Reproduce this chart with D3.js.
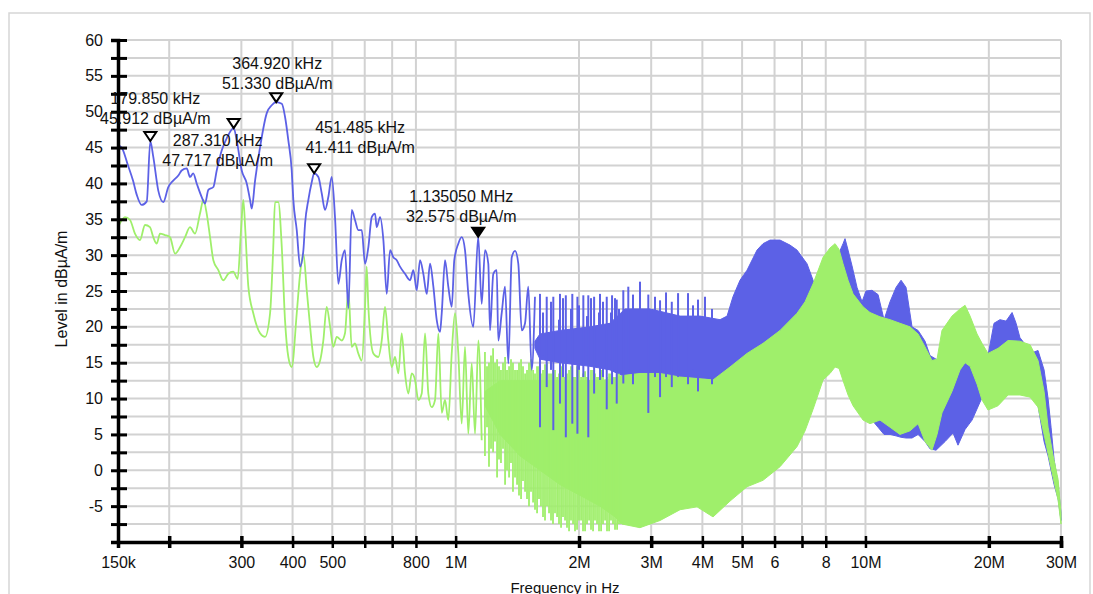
<!DOCTYPE html>
<html><head><meta charset="utf-8">
<script src="https://cdn.jsdelivr.net/npm/d3@7"></script>
<style>
body{margin:0;background:#fff}
svg text{font-family:"Liberation Sans",Arial,Helvetica,sans-serif;fill:#111}
</style>
</head><body>
<svg id="c" width="1093" height="594"></svg>
<script>
// ---------------- DATA (frequencies in kHz, levels in dBµA/m) ----------------
const freqTicks = [150,200,300,400,500,600,700,800,1000,2000,3000,4000,5000,6000,7000,8000,10000,20000,30000];
const freqTickLabels = ["150k","","300","400","500","","","800","1M","2M","3M","4M","5M","6","","8","10M","20M","30M"];
const majorFreqTicks = [200,300,2000,3000,20000,30000];
const levelTicks = [-10,-7.5,-5,-2.5,0,2.5,5,7.5,10,12.5,15,17.5,20,22.5,25,27.5,30,32.5,35,37.5,40,42.5,45,47.5,50,52.5,55,57.5,60];
const levelLabels = [-5,0,5,10,15,20,25,30,35,40,45,50,55,60];

// Blue trace (low-frequency part, continuous line)
const blueTraceF = [150,153.1,158.7,163.2,166.7,171.3,176.3,179.85,182.9,188.1,193.5,199,204.6,210.5,214.5,220.7,224.8,228.9,233.4,240.1,244.6,249.2,256.3,261.2,268.6,276.3,287.31,292.3,300.6,309.2,315,318,324,333.3,346,355.8,364.92,376.5,383.4,390.6,398.1,401.7,409.5,417.3,425.1,429.1,437.1,445.6,451.485,462.4,471.3,480,489,498.4,507.7,517.3,527.3,537,547.2,557.7,568,578.7,590,601,612.3,624,635.7,641.8,654,666.3,679,691.7,704.6,718.2,731.6,752.4,773.9,788.4,803.6,818.6,833.9,850,866,882.3,899.4,916,924.8,942,959.6,978.2,992.4,1015,1034.7,1053.9,1073.7,1104.3,1135.05,1157.6,1179.4,1201.4,1213,1235.7,1259.6,1270.8,1295.3,1319.8,1344.4,1370.4,1396.2,1422,1449.5,1476.8,1504,1533,1561.5];
const blueTraceV = [45.3,45.0,42.5,40.4,38.4,37.0,37.5,45.912,43.7,39.0,37.4,39.5,40.4,41.1,41.8,42.1,40.9,41.4,40.0,38.1,37.2,39.1,39.5,41.8,44.6,46.3,47.717,46.0,41.8,40.0,37.7,36.5,40.4,45.1,49.8,50.9,51.33,51.1,49.3,46.0,41.8,37.7,33.5,28.4,30.7,34.4,37.7,40.2,41.411,40.9,38.6,36.3,38.1,40.9,35.3,26.0,29.3,30.7,22.6,36.3,34.9,33.5,33.5,28.8,31.1,35.3,35.8,33.9,35.3,32.1,24.6,30.7,29.7,29.3,28.4,27.4,26.5,27.9,25.1,29.3,27.4,24.6,28.8,25.6,20.9,19.3,21.9,29.3,25.6,22.8,29.3,31.6,32.5,30.7,24.6,20.0,32.575,23.2,30.7,28.8,19.5,27.4,27.9,18.1,21.9,25.6,14.9,29.7,30.6,28.8,19.5,20.5,25.6,14.0,24.2];

// Blue spikes (frequency, bottom, top)
const blueSpikeF  = [1606,1633.7,1668,1708.8,1731,1787.3,1797,1828,1857,1912,1926,1982,2000,2049,2091.9,2107,2139.4,2177,2237.7,2250,2288.6,2337,2393.7,2408,2448.3,2472,2503.9,2565,2638,2709,2817,2952,3065,3153,3261,3368,3489,3690,3795,3903,4059,4222];
const blueSpikeLo = [6.0,16,11.6,14,5.6,15,9.3,13,4.6,15,6.5,5.1,14,13,16,4.6,14.5,10.7,15,12.6,13,8.5,15.5,12,14,9.3,13.5,12.1,14,12,14,8.0,13,10.2,13,11.6,13,12,14,11,13,12];
const blueSpikeHi = [24.6,22,24.2,23.5,24.2,21,24.6,24,24.4,22.5,24.6,24.2,23,24.4,21.5,24.4,24,24.2,22,24.6,23.5,24.2,22,24.4,24,23.8,22.5,25.1,25.6,24.5,26.3,24.5,24.2,23.7,24.8,23.5,24.7,24.7,23,23.8,24.2,22.5];

// Blue dense band (frequency, lower envelope, upper envelope)
const blueBandF  = [1561,1606,1797,2128,2380,2591,2981,3528,3948,4417,4595,4750,4942,5140,5437,5623,5848,6188,6544,6808,7201,7449,7747,8193,8573,8817,8915,9068,9273,9537,9808,10032,10376,10733,11100,11481,11874,12213,12561,12990,13440,13977,14370,14865,15638,16360,16820,17500,18200,19030,19910,20590,21290,22030,22790,23310,23820,24930,25790,26370,27280,27900,28370,28860,29520,30000];
const blueBandLo = [17,15.5,15,14.5,14,13,13,13,12.8,12.6,12.6,12.8,13,13.5,14,14,15,16,17,18,19,20,18,15,15,15,15,15,14,12,10,9,7,6,5,5,4.8,4.6,4.5,4.5,5,4,3,2.8,4,5.2,3.5,5.7,7,9.5,12,13,13,13,13,12.5,12,11.5,11,9,4,2,0,-2,-4,-7];
const blueBandHi = [18,19,19.5,20,20.5,22.5,22.5,21.5,21.5,21,21.5,24.2,26.5,27.9,30.7,31.6,32.1,32.1,31.4,30.7,28.8,26.5,24,25,30,31.6,32.3,30.7,28.5,25.5,23.5,25,25.1,24.5,21,23.5,25.5,26.5,25.5,20,19.5,18,16,15.5,15,15,15,15,15,15,16,20.5,21,20.8,22,20.5,18.5,17,16.5,16.7,14,10,6,1.5,-2,-6];

// Green trace (low-frequency part, continuous line)
const greenTraceF = [150,156,160.5,165,169.7,174.6,179.5,182.9,186.5,189.9,195.3,200.9,206.7,212.5,218.6,224.8,231.2,237.8,242.3,246.9,251.6,256.3,263.6,271,278.7,286.6,293.8,299.4,303.3,306.7,312,320.8,333.3,342.6,352.5,358.9,362.4,369.2,376.5,383.4,390.6,398.1,409.5,417.3,425.1,433.2,441.5,449.6,458.2,467,475.5,484.5,494,503,512.7,527.3,537,547.2,557.7,568,578.7,590,601,606.6,612.3,629.7,647.7,660.2,672.4,685,698.3,711.3,724.7,738.6,752.4,766.5,781.3,795.9,810.9,826.5,842,857.7,874.2,890.6,907.4,924.8,942,959.6,978.2,996.5,1015,1034.7,1053.9,1073.7,1094.5,1115,1136,1157.6];
const greenTraceV = [33.9,35.3,34.9,33.0,32.1,34.2,33.9,32.5,31.6,33.0,32.8,32.5,30.2,31.1,32.5,33.9,33.0,35.8,37.7,35.8,32.5,29.3,27.9,26.5,27.4,27.7,26.7,33.5,37.7,33.5,25.6,21.9,19.1,18.6,21.9,31.1,37.4,37.4,31.1,20.9,15.8,14.4,21.9,27.4,30.2,25.1,20.0,15.8,14.4,15.3,18.1,22.8,20.0,17.2,18.6,18.1,19.1,25.1,17.2,17.7,16.3,15.3,22.8,28.4,22.8,16.3,15.8,18.1,22.8,18.1,14.4,15.8,13.5,19.1,13.5,10.7,13.5,12.6,9.8,10.7,19.1,10.7,8.8,9.8,19.1,8.0,9.8,7.0,16.3,21.9,16.3,6.5,17.2,5.1,14.9,5.1,18.1,4.2];

// Green spikes (frequency, bottom, top)
const greenSpikeF  = [1179,1192.7,1206,1219.8,1234,1247.5,1262,1275.9,1290,1304.9,1320,1334.5,1350,1364.8,1380,1395.9,1412,1427.6,1444,1460,1477,1493.3,1510,1527.2,1545,1561.9,1580,1597.4,1615,1633.7,1652,1670.8,1690,1708.8,1728,1747.6,1768,1787.3,1808,1828,1849,1869.5,1891,1912,1934,1955.5,1978,2000,2023,2045.4,2069,2091.9,2116,2139.4,2164,2188,2213,2237.7,2264,2288.6,2315,2340.6,2368,2393.7,2421,2448.3,2477,2503.9,2532];
const greenSpikeLo = [2,6,0.5,3,2.5,4,-1,1.5,1,3,-2,0,-1,1,-3,-1,-2,-3.5,-4,-1.5,-3,-4,-5,-3,-4.5,-5.5,-6,-4,-5,-6.5,-7,-5,-6,-7,-7.5,-6,-6.5,-7.5,-8,-6.5,-7,-8,-8.5,-7,-7.5,-8.5,-8.3,-7,-7,-8.5,-8.5,-7.5,-7,-8.3,-8.5,-7,-7.5,-8.5,-8.5,-7.5,-7,-8.5,-8.5,-7,-7.5,-8.3,-8.3,-7.5,-7.5];
const greenSpikeHi = [16.5,14.5,15,16,17,15,15.5,14.5,14,15,15.8,14,14.5,15.5,15,14,14,15,15.5,14.5,13.5,14,15,15.5,14,13.5,14.5,14.5,13.5,14,14.8,15,13.5,13.5,14,14,13,13.5,14.5,14,13,13.5,14,14.5,13,13,14.5,14,13,13.5,13.8,13,12.5,14,14,13.5,13,13,14,14,12.5,13,13.5,13.5,13,13,13.5,13.5,13];

// Green dense band (frequency, lower envelope, upper envelope)
const greenBandF  = [1179,1283,1436,1606,1797,2011,2250,2448,2547,2817,3153,3528,3882,4247,4671,5140,5623,6188,6808,7122,7449,7880,8193,8429,8621,8817,9068,9326,9866,10258,10850,11481,12140,12845,13440,13977,14530,14950,15370,16260,17010,17500,18000,18720,19250,19910,21060,22280,23820,25220,26370,27280,27900,28700,29520,30000];
const greenBandLo = [9,5,2,0,-2,-3.5,-5,-6.5,-7.5,-8,-7,-5.5,-5.1,-6.5,-4.3,-2.3,-1.4,0.5,3.3,5.5,8.5,12.6,13.5,14.4,14.2,12.5,10.5,9,7,6.5,7,6,5,5.5,6.5,4,2.8,5,8,11,14,15,14.5,12,9.8,8.4,9,10.5,10.5,10.2,8.8,5,2.3,-1,-4.2,-7.5];
const greenBandHi = [11,12.5,12.5,12.5,12.5,12.5,12.5,12.8,13.2,13.5,13.5,13,12.8,12.6,14.4,16.3,17.7,19.5,21.9,23.5,26,29.7,31,31.6,30.8,28.8,26.5,24.6,22.8,22,21.4,21,20.5,20,19,17.2,15.3,15.5,19.5,21.5,22.5,23,21.5,19,17.7,16.3,17,18.1,18,17.5,15.3,11,6,2,-1.3,-6];

// Markers
const markerF = [179.85,287.31,364.92,451.485,1135.05];
const markerV = [45.912,47.717,51.330,41.411,32.575];
const markerFilled = [false,false,false,false,true];
// label layout: horizontal offset of label centre, baseline of second line relative to marker tip
const markerLabelDx = [5,-16,1,46,-17];
const markerLabelDy = [-17,38,-13,-20,-15];

// ---------------- CHART ----------------
const BLUE = "#5c61e6", GREEN = "#9fef6b";
const FS = 16;
const svg = d3.select("#c");
const x = d3.scaleLog().domain([150e3,30e6]).range([118,1061]);
const y = d3.scaleLinear().domain([-10,60]).range([542,40]);
const fx = k => x(k*1e3);

svg.append("rect").attr("x",9).attr("y",13).attr("width",1081).attr("height",620)
  .attr("fill","#fff").attr("stroke","#d6d6d6").attr("stroke-width",1.5);

// grid
const grid = svg.append("g").attr("stroke","#d2d2d2").attr("stroke-width",2);
grid.selectAll("line.h").data(levelTicks.filter(d=>d>-10)).join("line")
  .attr("x1",x.range()[0]).attr("x2",x.range()[1]).attr("y1",d=>y(d)).attr("y2",d=>y(d));
grid.selectAll("line.v").data(freqTicks.filter(d=>d>150)).join("line")
  .attr("x1",d=>fx(d)).attr("x2",d=>fx(d)).attr("y1",y(60)).attr("y2",y(-10));

const band = d3.area().x(d=>fx(d[0])).y0(d=>y(d[1])).y1(d=>y(d[2]));
const line = d3.line().x(d=>fx(d[0])).y(d=>y(d[1])).curve(d3.curveMonotoneX);

const blueBand = blueBandF.map((f,i)=>[f,blueBandLo[i],blueBandHi[i]]);
const greenBand = greenBandF.map((f,i)=>[f,greenBandLo[i],greenBandHi[i]]);
const blueTrace = blueTraceF.map((f,i)=>[f,blueTraceV[i]]);
const greenTrace = greenTraceF.map((f,i)=>[f,greenTraceV[i]]);
const blueSpikes = blueSpikeF.map((f,i)=>[f,blueSpikeLo[i],blueSpikeHi[i]]);
const greenSpikes = greenSpikeF.map((f,i)=>[f,greenSpikeLo[i],greenSpikeHi[i]]);

svg.append("path").attr("d",band(blueBand)).attr("fill",BLUE).attr("stroke",BLUE).attr("stroke-width",1);
svg.append("path").attr("d",band(greenBand)).attr("fill",GREEN).attr("stroke",GREEN).attr("stroke-width",1);
svg.append("g").selectAll("line").data(greenSpikes).join("line")
  .attr("x1",d=>fx(d[0])).attr("x2",d=>fx(d[0])).attr("y1",d=>y(d[1])).attr("y2",d=>y(d[2]))
  .attr("stroke",GREEN).attr("stroke-width",1.8);
svg.append("path").attr("d",line(greenTrace)).attr("fill","none").attr("stroke",GREEN).attr("stroke-width",1.8).attr("stroke-linejoin","round");
svg.append("path").attr("d",line(blueTrace)).attr("fill","none").attr("stroke",BLUE).attr("stroke-width",1.8).attr("stroke-linejoin","round");
svg.append("g").selectAll("line").data(blueSpikes).join("line")
  .attr("x1",d=>fx(d[0])).attr("x2",d=>fx(d[0])).attr("y1",d=>y(d[1])).attr("y2",d=>y(d[2]))
  .attr("stroke",BLUE).attr("stroke-width",2);

// axes
const gy = svg.append("g").attr("transform",`translate(${x.range()[0]},0)`);
gy.call(d3.axisLeft(y).tickValues(levelTicks).tickSize(7).tickPadding(8)
  .tickFormat(d=>levelLabels.includes(d)?String(d):""));
gy.call(g=>g.selectAll(".tick line").attr("stroke","#000").attr("stroke-width",3));
gy.call(g=>g.select(".domain").attr("stroke","#000").attr("stroke-width",3.5));
gy.selectAll("text").attr("font-size",FS).attr("fill","#222").attr("font-family",null);
const gy2 = svg.append("g").attr("transform",`translate(${x.range()[0]},0)`);
gy2.call(d3.axisRight(y).tickValues(levelTicks).tickSize(9).tickFormat(""));
gy2.call(g=>{g.select(".domain").remove(); g.selectAll(".tick line").attr("stroke","#000").attr("stroke-width",3);});

const gx = svg.append("g").attr("transform",`translate(0,${y(-10)})`);
gx.call(d3.axisBottom(x).tickValues(freqTicks.map(d=>d*1e3)).tickSize(6).tickPadding(9)
  .tickFormat((d,i)=>freqTickLabels[i]));
gx.call(g=>g.select(".domain").attr("stroke","#000").attr("stroke-width",3.5));
gx.selectAll(".tick line").attr("stroke","#000").attr("stroke-width",d=>majorFreqTicks.includes(d/1e3)?3.5:2.5);
gx.selectAll("text").attr("font-size",FS).attr("fill","#222").attr("font-family",null);
const gx2 = svg.append("g").attr("transform",`translate(0,${y(-10)})`);
gx2.call(d3.axisTop(x).tickValues(freqTicks.map(d=>d*1e3).filter(d=>d>150e3)).tickSize(6).tickFormat(""));
gx2.call(g=>{g.select(".domain").remove(); g.selectAll(".tick line").attr("stroke","#000").attr("stroke-width",d=>majorFreqTicks.includes(d/1e3)?3.5:2.5);});

// axis titles
svg.append("text").attr("transform","translate(67,289) rotate(-90)").attr("text-anchor","middle")
  .attr("font-size",16).text("Level in dBµA/m");
svg.append("text").attr("x",565).attr("y",593).attr("text-anchor","middle")
  .attr("font-size",15).text("Frequency in Hz");

// markers
const fmtF = f => f < 1000 ? f.toFixed(3)+" kHz" : (f/1000).toFixed(6)+" MHz";
const mk = svg.append("g");
markerF.forEach((f,i)=>{
  const cx = fx(f), cy = y(markerV[i]);
  mk.append("path").attr("d",`M${cx-6},${cy-9}L${cx+6},${cy-9}L${cx},${cy}Z`)
    .attr("fill",markerFilled[i]?"#000":"#fff").attr("stroke","#000").attr("stroke-width",2).attr("stroke-linejoin","miter");
  const tx = cx + markerLabelDx[i], ty = cy + markerLabelDy[i];
  mk.append("text").attr("x",tx).attr("y",ty-20).attr("text-anchor","middle").attr("font-size",FS).text(fmtF(f));
  mk.append("text").attr("x",tx).attr("y",ty).attr("text-anchor","middle").attr("font-size",FS).text(markerV[i].toFixed(3)+" dBµA/m");
});
</script>
</body></html>
